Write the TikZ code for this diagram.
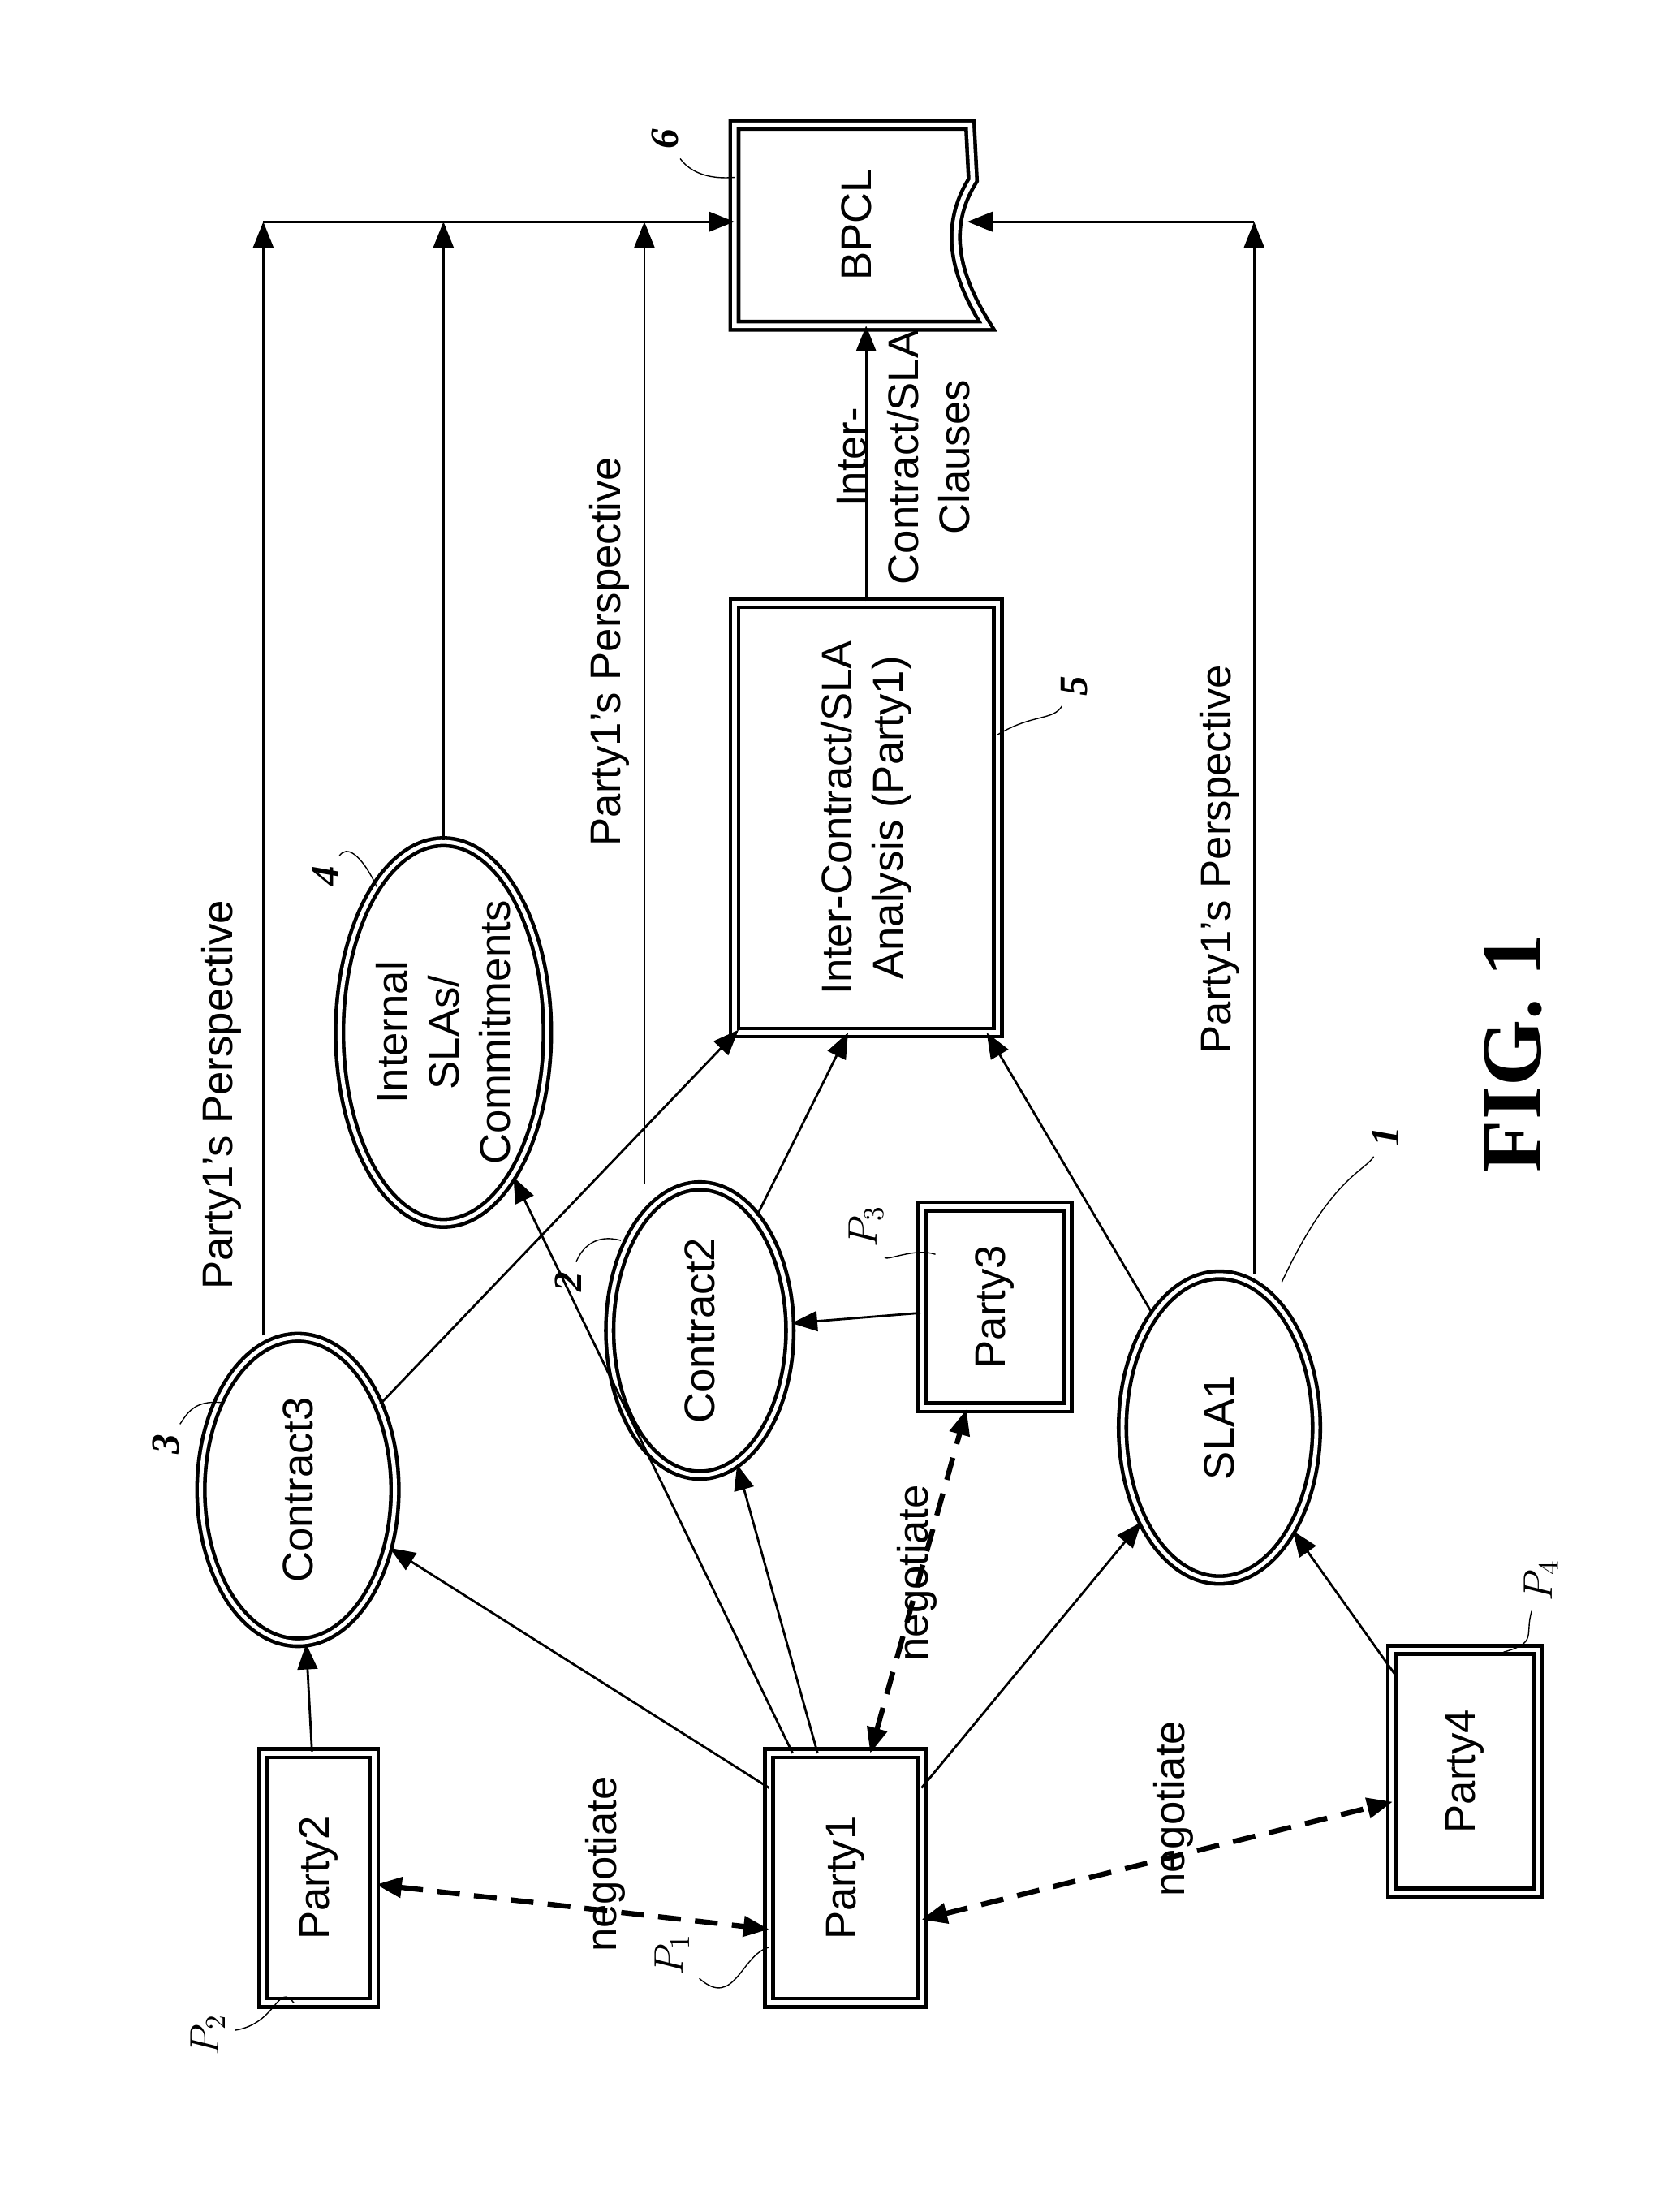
\documentclass[tikz,border=0pt]{standalone}
\usepackage{fontspec}
\setmainfont{Liberation Sans}
\newfontfamily\figfont{Liberation Serif}
\usetikzlibrary{shapes.geometric,arrows.meta}
\def\u{0.017075cm}
\tikzset{
    lbl/.style={rotate=90,font=\fontsize{15}{18}\selectfont,align=center},
    PB/.style={lbl,rectangle,draw,line width=1.3pt,double,double distance=1.6pt,minimum width=#1},
    EL/.style={lbl,ellipse,draw,line width=1.3pt,double,double distance=1.4pt},
    AR/.style={-{Triangle[length=9pt,width=7pt]},line width=0.8pt},
    NEG/.style={{Triangle[length=9pt,width=7pt]}-{Triangle[length=9pt,width=7pt]},line width=1.8pt,dash pattern=on 8pt off 5pt},
    RF/.style={rotate=90,font=\figfont\bfseries\itshape\fontsize{14}{16}\selectfont}
}
\begin{document}
\begin{tikzpicture}[x=\u,y=-\u]
\useasboundingbox (0,0) rectangle (1200,1596);
% parties
\node[PB=180*\u,minimum height=80*\u] (p2) at (230,1355) {Party2};
\node[PB=180*\u,minimum height=110*\u] (p1) at (610,1355) {Party1};
\node[PB=175*\u,minimum height=105*\u] (p4) at (1057,1278) {Party4};
\node[PB=145*\u,minimum height=105*\u] (p3) at (718,943) {Party3};
% contracts
\node[EL,minimum width=220*\u,minimum height=140*\u] (c3) at (215,1075) {Contract3};
\node[EL,minimum width=200*\u,minimum height=130*\u] (c2) at (505,960) {Contract2};
\node[EL,minimum width=220*\u,minimum height=140*\u] (sla) at (880,1030) {SLA1};
\node[EL,minimum width=260*\u,minimum height=150*\u,inner sep=1pt] (int) at (320,745) {Internal\\SLAs/\\Commitments};
\node[PB=310*\u,minimum height=190*\u] (ana) at (625,590) {Inter-Contract/SLA\\Analysis (Party1)};
% BPCL document
\draw[line width=1.3pt,double,double distance=1.6pt] (530,90) -- (700,90) -- (702,130)
    .. controls (680,165) and (690,200) .. (712,235) -- (530,235) -- cycle;
\node[lbl,minimum width=145*\u,minimum height=175*\u] (bpcl) at (618,162) {BPCL};
\coordinate (bw) at (530,160);
\coordinate (be) at (698,160);
\coordinate (bs) at (625,235);
% perspective lines
\coordinate (t3) at (190,160);
\coordinate (ti) at (320,160);
\coordinate (t2) at (465,160);
\coordinate (ts) at (905,160);
\draw[AR] (c3.east -| t3) -- (t3);
\draw[AR] (int.east) -- (ti);
\draw[AR] (c2.east -| t2) -- (t2);
\draw[AR] (sla.east -| ts) -- (ts);
\draw[AR] (t3) -- (bw);
\draw[AR] (ts) -- (be);
\draw[AR] (ana.east) -- (bs);
\node[lbl] at (652,330) {Inter-\\Contract/SLA\\Clauses};
\node[lbl] (pp1) at (160,790) {Party1's Perspective};
\node[lbl] (pp2) at (440,470) {Party1's Perspective};
\node[lbl] (pp3) at (880,620) {Party1's Perspective};
% connector ends
\coordinate (p1a) at (555,1290);
\coordinate (p1b) at (572,1265);
\coordinate (p1c) at (590,1265);
\coordinate (p1d) at (628,1265);
\coordinate (p1e) at (665,1290);
\coordinate (p1f) at (555,1392);
\coordinate (p1g) at (665,1385);
\coordinate (p4a) at (1008,1210);
\coordinate (p4b) at (1005,1300);
\coordinate (a1) at (533,743);
\coordinate (a2) at (612,745);
\coordinate (a3) at (712,745);
% flows
\draw[AR] (p2) -- (c3);
\draw[AR] (p1a) -- (c3);
\draw[AR] (p1b) -- (int);
\draw[AR] (p1c) -- (c2);
\draw[AR] (p1e) -- (sla);
\draw[AR] (c3) -- (a1);
\draw[AR] (c2) -- (a2);
\draw[AR] (sla) -- (a3);
\draw[AR] (p3) -- (c2);
\draw[AR] (p4a) -- (sla);
% negotiation
\draw[NEG] (p2) -- (p1f);
\draw[NEG] (p1d) -- (p3);
\draw[NEG] (p1g) -- (p4b);
\node[lbl] at (437,1345) {negotiate};
\node[lbl] at (662,1135) {negotiate};
\node[lbl] at (847,1305) {negotiate};
% references
\node[RF] (r2) at (150,1468) {$P_2$};
\draw (r2) .. controls (200,1460) and (200,1430) .. (212,1445);
\node[RF] (r1) at (485,1410) {$P_1$};
\draw (r1) .. controls (530,1450) and (535,1410) .. (555,1405);
\node[RF] (r3) at (625,885) {$P_3$};
\draw (r3) .. controls (640,910) and (660,900) .. (675,905);
\node[RF] (r4) at (1112,1140) {$P_4$};
\draw (r4) .. controls (1100,1180) and (1110,1185) .. (1085,1192);
\node[RF] (r3n) at (120,1042) {3};
\draw (r3n) .. controls (135,1020) and (140,1010) .. (160,1012);
\node[RF] (r2n) at (410,925) {2};
\draw (r2n) .. controls (420,900) and (430,890) .. (448,895);
\node[RF] (r4n) at (235,632) {4};
\draw (r4n) .. controls (250,610) and (260,615) .. (272,640);
\node[RF] (r5n) at (775,495) {5};
\draw (r5n) .. controls (760,520) and (745,515) .. (720,530);
\node[RF] (r6n) at (480,100) {6};
\draw (r6n) .. controls (495,120) and (505,130) .. (530,128);
\node[RF] (r1n) at (1000,820) {1};
\draw (r1n) .. controls (985,845) and (960,850) .. (925,925);
\node[rotate=90,font=\figfont\bfseries\fontsize{30}{34}\selectfont] (fig) at (1092,760) {FIG. 1};
\end{tikzpicture}
\end{document}
